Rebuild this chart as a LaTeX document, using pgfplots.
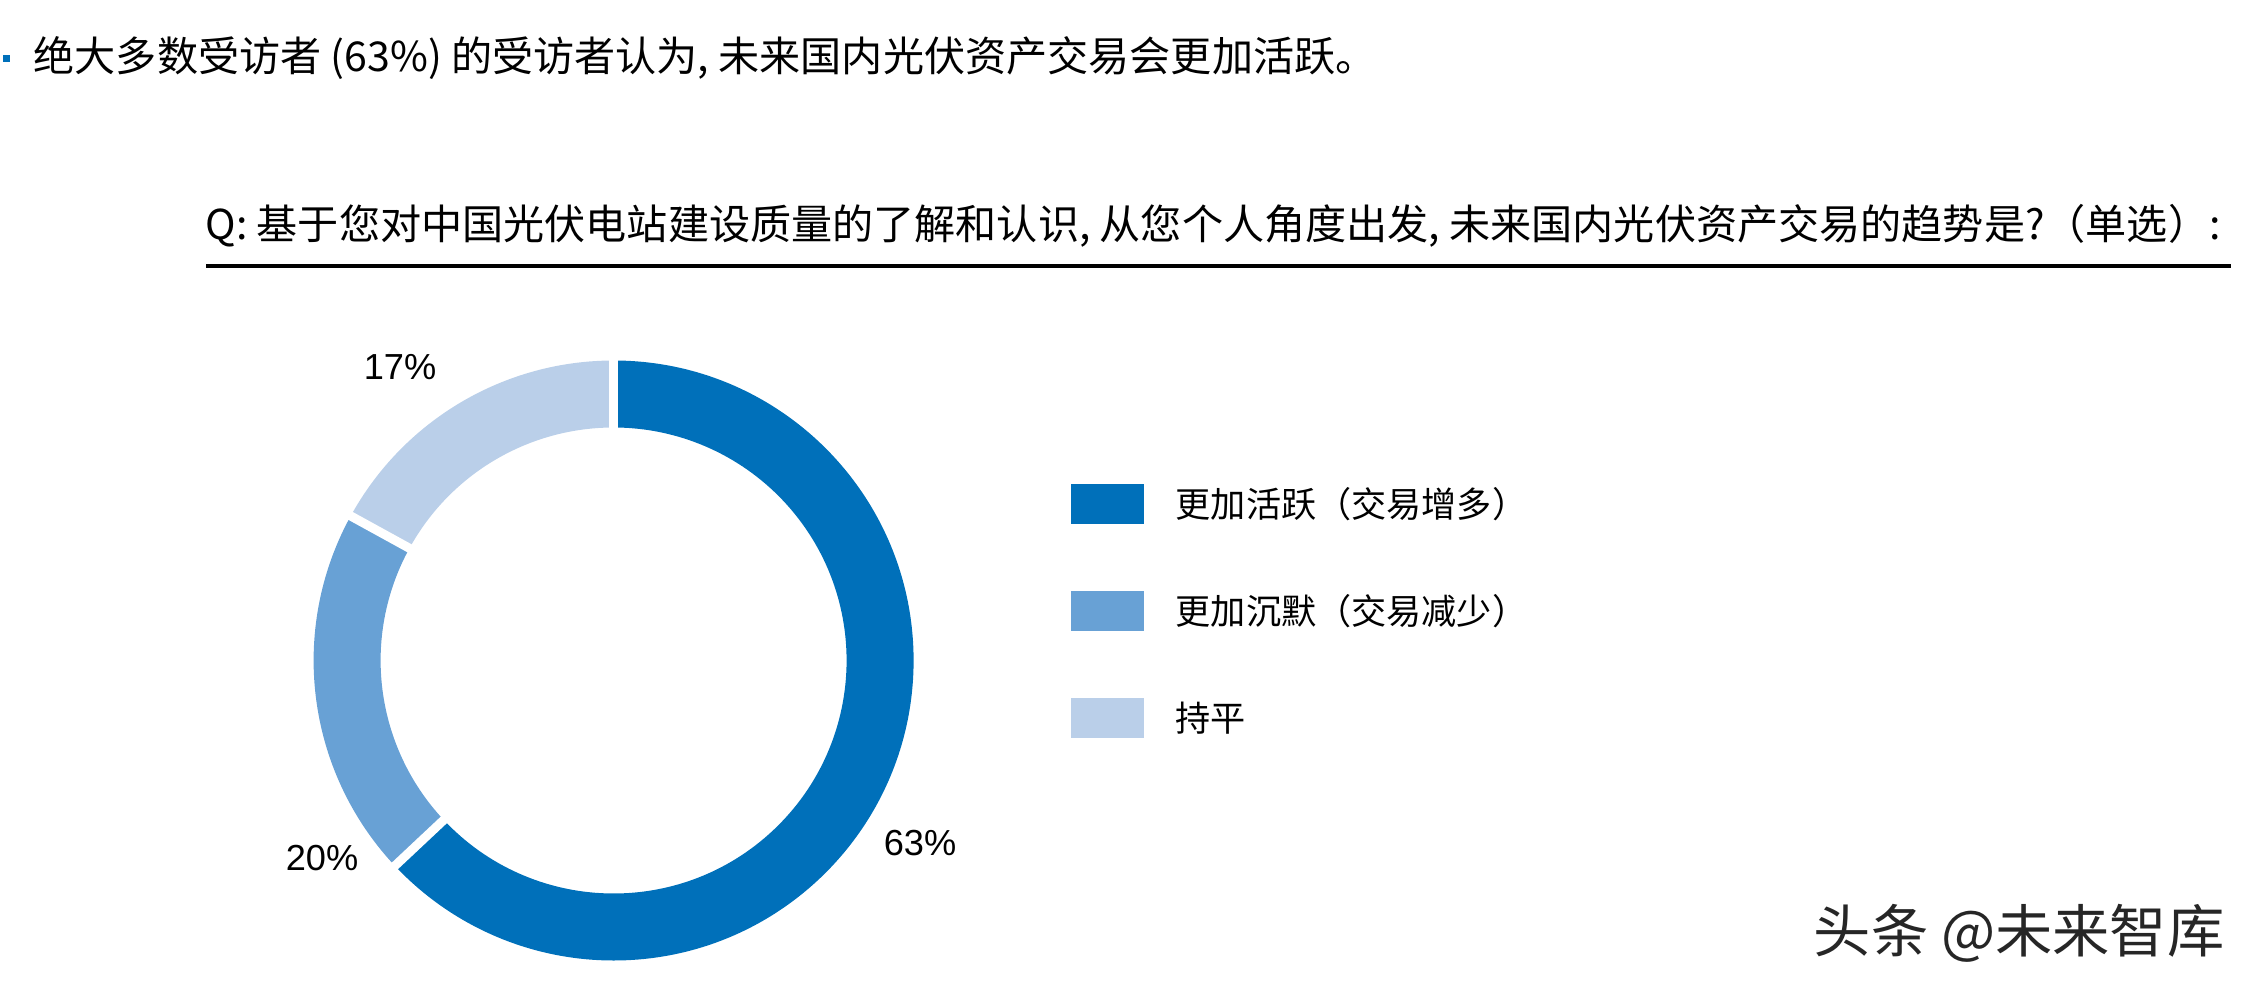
\documentclass[border=0pt]{standalone}
\usepackage{fontspec}
\usepackage{pgfplots}
\pgfplotsset{compat=1.18}
\setmainfont{Noto Sans CJK SC}
\newfontfamily\latinfont{Liberation Sans}
\definecolor{cA}{RGB}{0,112,186}
\definecolor{cB}{RGB}{104,161,213}
\definecolor{cC}{RGB}{186,207,233}
\begin{document}
\begin{tikzpicture}
% survey shares (percent)
\def\vA{63}\def\vB{20}\def\vC{17}
\pgfmathsetmacro{\aS}{90}
\pgfmathsetmacro{\aA}{\aS-\vA*3.6}
\pgfmathsetmacro{\aB}{\aA-\vB*3.6}
\pgfmathsetmacro{\aC}{\aB-\vC*3.6}
\begin{axis}[width=22.54cm,height=9.92cm,scale only axis,
  xmin=0,xmax=2254,ymin=0,ymax=992,hide axis,clip=false]
% donut slices
\fill[cA] ([shift={(\aS:3.00cm)}]axis cs:613.6,331.5) arc[start angle=\aS,end angle=\aA,radius=3.00cm]
   -- ([shift={(\aA:2.33cm)}]axis cs:613.6,331.5) arc[start angle=\aA,end angle=\aS,radius=2.33cm] -- cycle;
\fill[cB] ([shift={(\aA:3.00cm)}]axis cs:613.6,331.5) arc[start angle=\aA,end angle=\aB,radius=3.00cm]
   -- ([shift={(\aB:2.33cm)}]axis cs:613.6,331.5) arc[start angle=\aB,end angle=\aA,radius=2.33cm] -- cycle;
\fill[cC] ([shift={(\aB:3.00cm)}]axis cs:613.6,331.5) arc[start angle=\aB,end angle=\aC,radius=3.00cm]
   -- ([shift={(\aC:2.33cm)}]axis cs:613.6,331.5) arc[start angle=\aC,end angle=\aB,radius=2.33cm] -- cycle;
% separators
\draw[white,line width=0.09cm] ([shift={(\aS:2.2cm)}]axis cs:613.6,331.5) -- ([shift={(\aS:3.1cm)}]axis cs:613.6,331.5);
\draw[white,line width=0.09cm] ([shift={(\aA:2.2cm)}]axis cs:613.6,331.5) -- ([shift={(\aA:3.1cm)}]axis cs:613.6,331.5);
\draw[white,line width=0.09cm] ([shift={(\aB:2.2cm)}]axis cs:613.6,331.5) -- ([shift={(\aB:3.1cm)}]axis cs:613.6,331.5);
% labels
\node[font=\latinfont\fontsize{10.3pt}{12pt}\selectfont] at (axis cs:400,625) {17\%};
\node[font=\latinfont\fontsize{10.3pt}{12pt}\selectfont] at (axis cs:322,134) {20\%};
\node[font=\latinfont\fontsize{10.3pt}{12pt}\selectfont] at (axis cs:920,149) {63\%};
% legend
\fill[cA] (axis cs:1071,508) rectangle (axis cs:1144,468);
\fill[cB] (axis cs:1071,401.5) rectangle (axis cs:1144,361);
\fill[cC] (axis cs:1071,294) rectangle (axis cs:1144,254);
\node[anchor=west,inner sep=0pt,font=\fontsize{10pt}{12pt}\selectfont] at (axis cs:1175,488) {更加活跃（交易增多）};
\node[anchor=west,inner sep=0pt,font=\fontsize{10pt}{12pt}\selectfont] at (axis cs:1175,381) {更加沉默（交易减少）};
\node[anchor=west,inner sep=0pt,font=\fontsize{10pt}{12pt}\selectfont] at (axis cs:1175,274) {持平};
% title
\fill[cA] (axis cs:3,937) rectangle (axis cs:10,930);
\node[anchor=west,inner sep=0pt,font=\fontsize{11.7pt}{14pt}\selectfont] at (axis cs:33,934) {绝大多数受访者 (63\%) 的受访者认为, 未来国内光伏资产交易会更加活跃。};
\node[anchor=west,inner sep=0pt,font=\fontsize{11.7pt}{14pt}\selectfont] at (axis cs:205,766) {Q: 基于您对中国光伏电站建设质量的了解和认识, 从您个人角度出发, 未来国内光伏资产交易的趋势是?（单选）:};
\draw[black,line width=0.04cm] (axis cs:206,726) -- (axis cs:2231,726);
% watermark
\node[anchor=west,inner sep=0pt,text=black!85,font=\fontsize{16.3pt}{18pt}\selectfont] at (axis cs:1813,59) {头条 @未来智库};
\end{axis}
\pgfresetboundingbox
\path (current axis.south west) rectangle (current axis.north east);
\end{tikzpicture}
\end{document}
